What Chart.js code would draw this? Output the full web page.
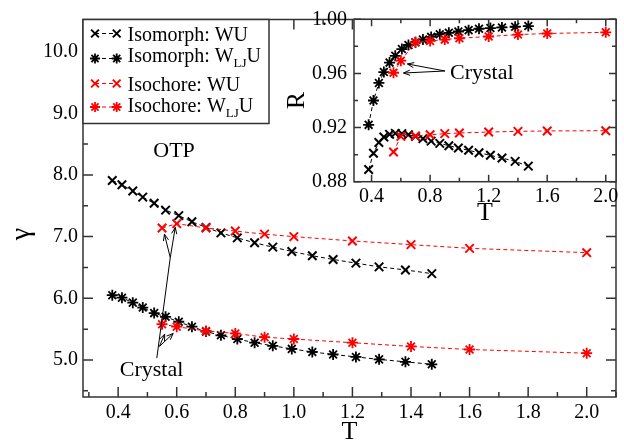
<!DOCTYPE html>
<html>
<head>
<meta charset="utf-8">
<script src="https://cdn.jsdelivr.net/npm/chart.js@4.4.1/dist/chart.umd.min.js"></script>
<style>
body { margin: 0; background: #fff; }
#wrap { position: relative; width: 624px; height: 441px; }
#wrap canvas { position: absolute; left: 0; top: 0; }
</style>
</head>
<body>
<div id="wrap">
<canvas id="main" width="624" height="441"></canvas>
<canvas id="inset" width="624" height="441"></canvas>
</div>
<script>
var fontFamily = "'Liberation Serif', 'Times New Roman', serif";

// legend labels, {..} = subscript
var seriesNames = ['Isomorph: WU', 'Isomorph: W{LJ}U', 'Isochore: WU', 'Isochore: W{LJ}U'];

// temperatures
var isoT = [0.380, 0.413, 0.450, 0.484, 0.523, 0.562, 0.607, 0.652, 0.700, 0.751,
            0.807, 0.866, 0.928, 0.993, 1.063, 1.134, 1.212, 1.291, 1.381, 1.471];
var chT = [0.55, 0.60, 0.70, 0.80, 0.90, 1.00, 1.20, 1.40, 1.60, 2.00];

// gamma (main plot)
var gammaIsoWU = [7.91, 7.84, 7.74, 7.64, 7.54, 7.43, 7.34, 7.24, 7.15, 7.06,
                  6.98, 6.90, 6.83, 6.76, 6.69, 6.63, 6.57, 6.51, 6.46, 6.40];
var gammaIsoWLJU = [6.05, 6.01, 5.93, 5.85, 5.76, 5.70, 5.62, 5.54, 5.46, 5.40,
                    5.34, 5.28, 5.23, 5.18, 5.13, 5.09, 5.05, 5.01, 4.97, 4.93];
var gammaChWU = [7.14, 7.21, 7.14, 7.09, 7.04, 7.00, 6.93, 6.87, 6.81, 6.74];
var gammaChWLJU = [5.58, 5.54, 5.47, 5.43, 5.37, 5.34, 5.28, 5.22, 5.17, 5.11];

// R (inset)
var rIsoWU = [0.889, 0.901, 0.909, 0.913, 0.915, 0.9157, 0.9155, 0.9147, 0.9135, 0.9118,
              0.910, 0.9083, 0.9066, 0.9049, 0.9032, 0.9014, 0.8995, 0.8975, 0.895, 0.8915];
var rIsoWLJU = [0.922, 0.940, 0.953, 0.961, 0.968, 0.973, 0.978, 0.981, 0.983, 0.985,
                0.987, 0.989, 0.990, 0.991, 0.992, 0.993, 0.9935, 0.994, 0.9945, 0.995];
var rChWU = [0.902, 0.9135, 0.9138, 0.9147, 0.9155, 0.916, 0.9167, 0.9172, 0.9175, 0.9177];
var rChWLJU = [0.9605, 0.9694, 0.983, 0.984, 0.985, 0.986, 0.9873, 0.9887, 0.9895, 0.9904];

// tick labels
var mainXTicks = [0.4, 0.6, 0.8, 1.0, 1.2, 1.4, 1.6, 1.8, 2.0];
var mainYTicks = [5, 6, 7, 8, 9, 10];
var insetXTicks = [0.4, 0.8, 1.2, 1.6, 2.0];
var insetYTicks = [0.88, 0.92, 0.96, 1.00];

var BLACK = '#000000';
var RED = '#ff0000';

function series(label, xs, ys, color, style, order) {
    return {
        label: label,
        data: xs.map(function (t, i) { return {x: t, y: ys[i]}; }),
        showLine: true,
        borderColor: color,
        backgroundColor: color,
        borderWidth: 1,
        borderDash: [4, 3],
        pointStyle: style,
        pointRadius: style == 'star' ? 5.5 : 6,
        pointHoverRadius: 6,
        pointBorderWidth: style == 'star' ? 1.8 : 2,
        pointBorderColor: color,
        pointBackgroundColor: color,
        order: order
    };
}

function font(size) {
    return size + 'px ' + fontFamily;
}

function stepValues(min, max, step) {
    var out = [];
    var k0 = Math.ceil(min / step - 1e-6), k1 = Math.floor(max / step + 1e-6);
    for (var k = k0; k <= k1; k++) out.push(k * step);
    return out;
}

function isMultiple(v, step) {
    return Math.abs(v / step - Math.round(v / step)) < 1e-6;
}

// frame with inward ticks on all four sides
function drawFrame(chart, o) {
    var ctx = chart.ctx, a = chart.chartArea;
    var xs = chart.scales.x, ys = chart.scales.y;
    ctx.save();
    ctx.strokeStyle = '#333';
    ctx.lineWidth = 1.5;
    ctx.beginPath();
    stepValues(xs.min, xs.max, o.xMinor).forEach(function (v) {
        var len = isMultiple(v, o.xMajor) ? o.major : o.minor;
        var p = xs.getPixelForValue(v);
        ctx.moveTo(p, a.bottom); ctx.lineTo(p, a.bottom - len);
        ctx.moveTo(p, a.top); ctx.lineTo(p, a.top + len);
    });
    stepValues(ys.min, ys.max, o.yMinor).forEach(function (v) {
        var len = isMultiple(v, o.yMajor) ? o.major : o.minor;
        var p = ys.getPixelForValue(v);
        ctx.moveTo(a.left, p); ctx.lineTo(a.left + len, p);
        ctx.moveTo(a.right, p); ctx.lineTo(a.right - len, p);
    });
    ctx.stroke();
    ctx.strokeRect(a.left, a.top, a.right - a.left, a.bottom - a.top);
    ctx.restore();
}

function drawText(ctx, text, x, y, size, align, rotate) {
    ctx.save();
    ctx.fillStyle = '#000';
    ctx.font = font(size);
    ctx.textAlign = align || 'center';
    ctx.textBaseline = 'middle';
    ctx.translate(x, y);
    if (rotate) ctx.rotate(rotate);
    ctx.fillText(text, 0, 0);
    ctx.restore();
}

function arrow(ctx, x0, y0, x1, y1) {
    var ang = Math.atan2(y1 - y0, x1 - x0), h = 7, s = 0.38;
    ctx.moveTo(x0, y0); ctx.lineTo(x1, y1);
    ctx.moveTo(x1 - h * Math.cos(ang - s), y1 - h * Math.sin(ang - s));
    ctx.lineTo(x1, y1);
    ctx.lineTo(x1 - h * Math.cos(ang + s), y1 - h * Math.sin(ang + s));
}

function pt(chart, x, y) {
    return [chart.scales.x.getPixelForValue(x), chart.scales.y.getPixelForValue(y)];
}

// label with {sub} parts
function drawLabel(ctx, label, x, y) {
    var parts = label.split(/(\{[^}]*\})/);
    var base = y + 7;
    parts.forEach(function (p) {
        if (!p) return;
        if (p.charAt(0) == '{') {
            ctx.font = font(13);
            p = p.slice(1, -1);
            ctx.fillText(p, x, base + 5);
        } else {
            ctx.font = font(20);
            ctx.fillText(p, x, base);
        }
        x += ctx.measureText(p).width;
    });
}

function drawLegend(chart) {
    var ctx = chart.ctx, a = chart.chartArea;
    var textY = [14, 35.5, 64, 85.5];
    var markY = [14, 39, 64, 87.5];
    ctx.save();
    ctx.fillStyle = '#fff';
    ctx.fillRect(a.left, a.top, 186, 104);
    ctx.strokeStyle = '#333';
    ctx.lineWidth = 1.5;
    ctx.strokeRect(a.left, a.top, 186, 104);
    chart.data.datasets.forEach(function (ds, i) {
        var y = a.top + markY[i];
        var x0 = a.left + 12, x1 = a.left + 33.7;
        ctx.strokeStyle = ds.borderColor;
        ctx.fillStyle = ds.borderColor;
        ctx.lineWidth = 1;
        ctx.setLineDash(ds.borderDash);
        ctx.beginPath(); ctx.moveTo(x0, y); ctx.lineTo(x1, y); ctx.stroke();
        ctx.setLineDash([]);
        ctx.lineWidth = ds.pointBorderWidth;
        [x0, x1].forEach(function (x) {
            Chart.helpers.drawPoint(ctx, {pointStyle: ds.pointStyle, radius: ds.pointRadius - 0.5, rotation: 0, borderWidth: ds.pointBorderWidth}, x, y);
        });
        ctx.fillStyle = '#000';
        ctx.textAlign = 'left';
        ctx.textBaseline = 'alphabetic';
        drawLabel(ctx, seriesNames[i], a.left + 44.5, a.top + textY[i]);
    });
    ctx.restore();
}

var mainDecor = {
    id: 'mainDecor',
    afterDraw: function (chart) {
        var ctx = chart.ctx, a = chart.chartArea;
        drawFrame(chart, {xMajor: 0.2, xMinor: 0.1, yMajor: 1, yMinor: 0.5, major: 10, minor: 5});
        drawLegend(chart);
        var p = pt(chart, 0.591, 8.38);
        drawText(ctx, 'OTP', p[0], p[1], 22);
        p = pt(chart, 0.514, 4.835);
        drawText(ctx, 'Crystal', p[0], p[1], 22);
        ctx.save();
        ctx.strokeStyle = '#000';
        ctx.lineWidth = 1;
        ctx.beginPath();
        var b = pt(chart, 0.532, 5.03), j = pt(chart, 0.578, 6.66);
        ctx.moveTo(b[0], b[1]); ctx.lineTo(j[0], j[1]);
        var t1 = pt(chart, 0.558, 7.04), t2 = pt(chart, 0.595, 7.15);
        arrow(ctx, j[0], j[1], t1[0], t1[1]);
        arrow(ctx, j[0], j[1], t2[0], t2[1]);
        var s = pt(chart, 0.541, 5.22), s1 = pt(chart, 0.559, 5.42), s2 = pt(chart, 0.588, 5.43);
        arrow(ctx, s[0], s[1], s1[0], s1[1]);
        arrow(ctx, s[0], s[1], s2[0], s2[1]);
        ctx.stroke();
        ctx.restore();
        drawText(ctx, 'T', (a.left + a.right) / 2, a.bottom + 35, 26);
        drawText(ctx, '\u03b3', 22, 234, 28, 'center', -Math.PI / 2);
    }
};

var insetDecor = {
    id: 'insetDecor',
    beforeDatasetsDraw: function (chart) {
        var a = chart.chartArea;
        chart.ctx.save();
        chart.ctx.fillStyle = '#fff';
        chart.ctx.fillRect(a.left, a.top, a.right - a.left, a.bottom - a.top);
        chart.ctx.restore();
    },
    afterDraw: function (chart) {
        var ctx = chart.ctx, a = chart.chartArea;
        drawFrame(chart, {xMajor: 0.4, xMinor: 0.2, yMajor: 0.04, yMinor: 0.02, major: 7, minor: 4});
        var p = pt(chart, 0.936, 0.9598);
        drawText(ctx, 'Crystal', p[0], p[1], 22, 'left');
        ctx.save();
        ctx.strokeStyle = '#000';
        ctx.lineWidth = 1;
        ctx.beginPath();
        var b = pt(chart, 0.902, 0.9618), t1 = pt(chart, 0.618, 0.9603), t2 = pt(chart, 0.645, 0.967);
        arrow(ctx, b[0], b[1], t1[0], t1[1]);
        arrow(ctx, b[0], b[1], t2[0], t2[1]);
        ctx.stroke();
        ctx.restore();
        drawText(ctx, 'T', (a.left + a.right) / 2, a.bottom + 31, 26);
        drawText(ctx, 'R', a.left - 57, (a.top + a.bottom) / 2, 26, 'center', -Math.PI / 2);
    }
};

function axis(min, max, tickValues, digits, padding, fit) {
    return {
        type: 'linear',
        min: min,
        max: max,
        grid: {display: false, drawTicks: false},
        border: {display: false},
        afterBuildTicks: function (scale) {
            scale.ticks = tickValues.map(function (v) { return {value: v}; });
        },
        afterFit: fit,
        ticks: {
            color: '#000',
            padding: padding,
            maxRotation: 0,
            autoSkip: false,
            font: {family: fontFamily, size: 20},
            callback: function (v) { return Number(v).toFixed(digits); }
        }
    };
}

function baseOptions(padding, scales) {
    return {
        responsive: false,
        animation: false,
        events: [],
        layout: {padding: padding},
        plugins: {legend: {display: false}, tooltip: {enabled: false}},
        scales: scales
    };
}

var mainChart = new Chart(document.getElementById('main'), {
    type: 'scatter',
    data: {
        datasets: [
            series(seriesNames[0], isoT, gammaIsoWU, BLACK, 'crossRot', 2),
            series(seriesNames[1], isoT, gammaIsoWLJU, BLACK, 'star', 2),
            series(seriesNames[2], chT, gammaChWU, RED, 'crossRot', 1),
            series(seriesNames[3], chT, gammaChWLJU, RED, 'star', 1)
        ]
    },
    options: baseOptions({left: 0, top: 19.5, right: 1, bottom: 0}, {
        x: axis(0.28, 2.1, mainXTicks, 1, 4, function (s) { s.height = 44; }),
        y: axis(4.4, 10.52, mainYTicks, 1, 5, function (s) { s.width = 83; })
    }),
    plugins: [mainDecor]
});

var insetChart = new Chart(document.getElementById('inset'), {
    type: 'scatter',
    data: {
        datasets: [
            series(seriesNames[0], isoT, rIsoWU, BLACK, 'crossRot', 2),
            series(seriesNames[1], isoT, rIsoWLJU, BLACK, 'star', 2),
            series(seriesNames[2], chT, rChWU, RED, 'crossRot', 1),
            series(seriesNames[3], chT, rChWLJU, RED, 'star', 1)
        ]
    },
    options: baseOptions({left: 294, top: 19.3, right: 5.7, bottom: 219.3}, {
        x: axis(0.28, 2.07, insetXTicks, 1, 3, function (s) { s.height = 40; }),
        y: axis(0.88, 1.0, insetYTicks, 2, 7, function (s) { s.width = 60; })
    }),
    plugins: [insetDecor]
});
</script>
</body>
</html>
